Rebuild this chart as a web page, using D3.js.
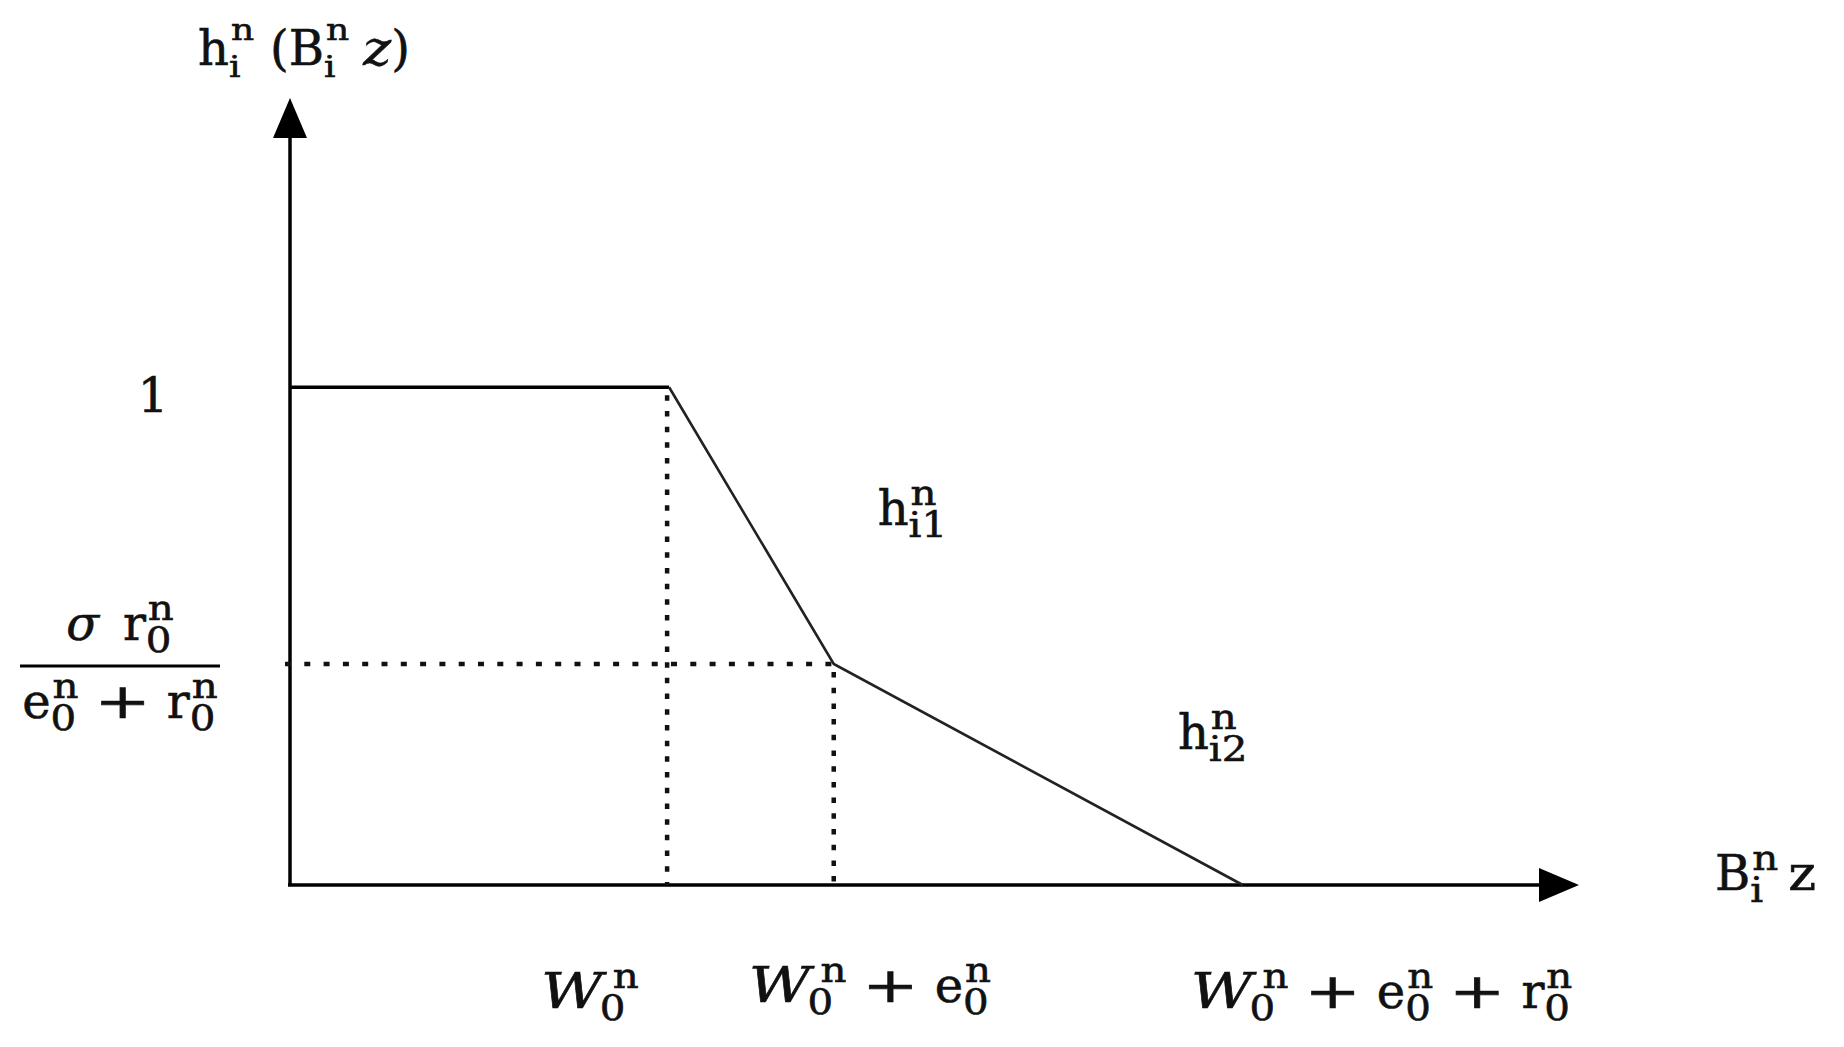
<!DOCTYPE html>
<html>
<head>
<meta charset="utf-8">
<script src="https://cdn.jsdelivr.net/npm/d3@7"></script>
<style>
  body { margin: 0; background: #fff; }
  text { font-family: "DejaVu Serif", serif; fill: #111; stroke: #111; stroke-width: 0.6px; white-space: pre; }
</style>
</head>
<body>
<script>
const W = 1844, H = 1047

// breakpoints of the piecewise curve: 0, w0, w0+e0, w0+e0+r0
const breakX = [0, 3.8, 5.45, 9.55]
const breakY = [1, 1, 0.444, 0]
const xMax = 12.9
const yMax = 1.565

// formula pieces: base text with optional sub / sup, or a gap
const PLUS = { b: "+", sx: 1.4 }
const SCRIPT_W = { b: "W", it: 1, sx: 1.25, sub: "0", sup: "n", subDx: -3, supDx: 8 }
const titleTokens = [{ b: "h", sub: "i", sup: "n" }, { gap: 16 }, { b: "(B", sub: "i", sup: "n" }, { gap: 14 }, { b: "z", it: 1, sx: 1.1 }, { b: ")" }]
const xAxisTokens = [{ b: "B", sub: "i", sup: "n" }, { gap: 10 }, { b: "z", sx: 1.1 }]
const xTickLabels = [
    [SCRIPT_W],
    [SCRIPT_W, { gap: 16 }, PLUS, { gap: 16 }, { b: "e", sub: "0", sup: "n" }],
    [SCRIPT_W, { gap: 16 }, PLUS, { gap: 16 }, { b: "e", sub: "0", sup: "n" }, { gap: 16 }, PLUS, { gap: 16 }, { b: "r", sub: "0", sup: "n" }]
]
const yOneLabel = [{ b: "1" }]
const fracNum = [{ b: "σ", it: 1 }, { gap: 24 }, { b: "r", sub: "0", sup: "n" }]
const fracDen = [{ b: "e", sub: "0", sup: "n" }, { gap: 16 }, PLUS, { gap: 16 }, { b: "r", sub: "0", sup: "n" }]
const segLabels = [
    { tokens: [{ b: "h", sub: "i1", sup: "n" }], at: [5.91, 0.723] },
    { tokens: [{ b: "h", sub: "i2", sup: "n" }], at: [8.92, 0.273] }
]

const svg = d3.select("body").append("svg").attr("width", W).attr("height", H)

const x = d3.scaleLinear().domain([0, xMax]).range([290, 1577])
const y = d3.scaleLinear().domain([0, yMax]).range([885, 106])

// lay out a little formula as one text element: left edge at 0, baseline at 0
function drawMath(parent, tokens, o) {
    const meas = parent.append("text")
    const pieces = []
    let cx = 0
    function add(str, px, py, size, it, sx) {
        meas.attr("font-size", size).attr("font-style", it ? "italic" : "normal").text(str)
        const w = meas.node().getComputedTextLength()
        pieces.push({ str, px, py, size, it, w, sx })
        return w * sx
    }
    tokens.forEach(tk => {
        if (tk.gap) { cx += tk.gap; return }
        if (tk.b) cx += add(tk.b, cx, 0, o.size, tk.it, tk.sx || 1)
        let w = 0
        if (tk.sup) w = Math.max(w, (tk.supDx || 0) + 2 + add(tk.sup, cx + (tk.supDx || 0) + 2, -o.supDy, o.small, 0, o.ssx))
        if (tk.sub) w = Math.max(w, (tk.subDx || 0) + add(tk.sub, cx + (tk.subDx || 0), o.subDy, o.small, 0, o.ssx))
        cx += w
    })
    meas.remove()
    const t = parent.append("text")
    t.selectAll("tspan")
        .data(pieces)
        .join("tspan")
        .attr("x", d => d.px)
        .attr("y", d => d.py)
        .attr("font-size", d => d.size)
        .attr("font-style", d => d.it ? "italic" : "normal")
        .attr("textLength", d => d.sx !== 1 ? d.w * d.sx : null)
        .attr("lengthAdjust", d => d.sx !== 1 ? "spacingAndGlyphs" : null)
        .text(d => d.str)
    return { g: t, width: cx }
}

const bigStyle = { size: 48, small: 36, ssx: 1.12, supDy: 20, subDy: 12 }
const titleStyle = { size: 48, small: 30, ssx: 1.2, supDy: 25, subDy: 12 }

// arrows
svg.append("defs").append("marker")
    .attr("id", "arrow")
    .attr("viewBox", "0 0 40 34")
    .attr("refX", 0).attr("refY", 17)
    .attr("markerWidth", 40).attr("markerHeight", 34)
    .attr("markerUnits", "userSpaceOnUse")
    .attr("orient", "auto")
    .append("path").attr("d", "M0,0 L40,17 L0,34 Z").attr("fill", "#000")

// axes
svg.append("line")
    .attr("x1", x(0)).attr("y1", y(0)).attr("x2", x(0)).attr("y2", y(yMax) + 32)
    .attr("stroke", "#000").attr("stroke-width", 3.5)
    .attr("marker-end", "url(#arrow)")
svg.append("line")
    .attr("x1", x(0) - 2).attr("y1", y(0)).attr("x2", x(xMax) - 38).attr("y2", y(0))
    .attr("stroke", "#000").attr("stroke-width", 3.5)
    .attr("marker-end", "url(#arrow)")

// dotted guides
svg.append("line")
    .attr("x1", x(0) - 5).attr("x2", x(breakX[2])).attr("y1", y(breakY[2])).attr("y2", y(breakY[2]))
    .attr("stroke", "#111").attr("stroke-width", 4.5).attr("stroke-dasharray", "6,13.3")
svg.append("line")
    .attr("x1", x(breakX[1]) - 2).attr("x2", x(breakX[1]) - 2).attr("y1", y(breakY[1]) + 8).attr("y2", y(0))
    .attr("stroke", "#111").attr("stroke-width", 4.5).attr("stroke-dasharray", "5.5,10.2")
svg.append("line")
    .attr("x1", x(breakX[2])).attr("x2", x(breakX[2])).attr("y1", y(breakY[2]) + 8).attr("y2", y(0))
    .attr("stroke", "#111").attr("stroke-width", 4.5).attr("stroke-dasharray", "5.5,10.2")

// curve: flat part thick, sloped parts thinner
svg.append("line")
    .attr("x1", x(breakX[0])).attr("y1", y(breakY[0])).attr("x2", x(breakX[1])).attr("y2", y(breakY[1]))
    .attr("stroke", "#000").attr("stroke-width", 3.5)
svg.append("path")
    .datum(d3.range(1, breakX.length).map(i => [breakX[i], breakY[i]]))
    .attr("d", d3.line().x(d => x(d[0])).y(d => y(d[1])))
    .attr("fill", "none").attr("stroke", "#222").attr("stroke-width", 2.6)

// title
drawMath(svg, titleTokens, titleStyle).g.attr("transform", "translate(198,65)")

// x axis name
drawMath(svg, xAxisTokens, bigStyle).g.attr("transform", `translate(${x(xMax) + 138},${y(0) + 5})`)

// x tick labels
const tickOffsets = [-128, -85, -52]
const tickBase = [1008, 1002, 1008]
xTickLabels.forEach((tokens, i) => {
    drawMath(svg, tokens, bigStyle).g
        .attr("transform", `translate(${x(breakX[i + 1]) + tickOffsets[i]},${tickBase[i]})`)
})

// y label "1"
const one = drawMath(svg, yOneLabel, bigStyle)
one.g.attr("transform", `translate(${153 - one.width / 2},${y(1) + 25})`)

// fraction label
const fy = y(breakY[2]) + 2
svg.append("line").attr("x1", 20).attr("x2", 220).attr("y1", fy).attr("y2", fy)
    .attr("stroke", "#000").attr("stroke-width", 3)
const num = drawMath(svg, fracNum, bigStyle)
num.g.attr("transform", `translate(${120 - num.width / 2},${fy - 26})`)
const den = drawMath(svg, fracDen, bigStyle)
den.g.attr("transform", `translate(${120 - den.width / 2},${fy + 52})`)

// segment labels
segLabels.forEach(s => {
    drawMath(svg, s.tokens, bigStyle).g
        .attr("transform", `translate(${x(s.at[0]) - 2},${y(s.at[1])})`)
})
</script>
</body>
</html>
